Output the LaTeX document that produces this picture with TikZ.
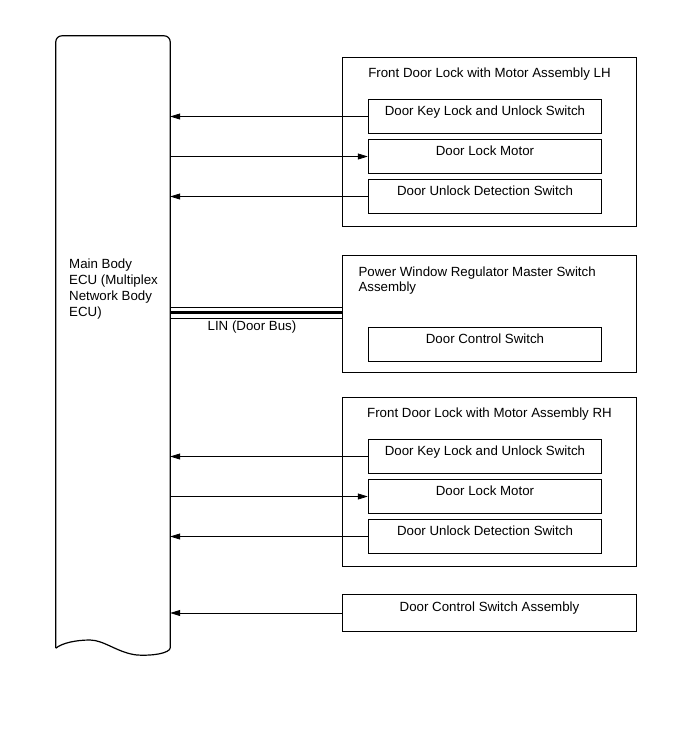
\documentclass[tikz,border=0pt]{standalone}
\usepackage{fontspec}
\setmainfont{Liberation Sans}
\usetikzlibrary{arrows.meta}
\begin{document}
\begin{tikzpicture}[x=1pt,y=-1pt,
  every node/.style={font=\fontsize{13.3}{15}\selectfont, inner sep=0pt},
  outerbox/.style={draw, line width=1pt, minimum width=294pt},
  innerbox/.style={draw, line width=1pt, minimum width=233.4pt, minimum height=33.3pt, text height=9.5pt, text depth=12.5pt},
  arr/.style={line width=0.8pt, -{Triangle[length=10pt,width=6pt]}},
  eculine/.style={line width=1.2pt}
]
\useasboundingbox (0,0) rectangle (690,756);

% Main Body ECU
\node[minimum width=114pt, minimum height=612pt] (ecu) at (113,342) {};
\draw[eculine, rounded corners=6pt] (ecu.south west) -- (ecu.north west) -- (ecu.north east) -- (ecu.south east);
\draw[eculine] (ecu.south east) .. controls (169,653) and (154,656) .. (137,655)
  .. controls (118,653) and (104,640) .. (90,640)
  .. controls (76,640) and (62,643) .. (ecu.south west);
\node[anchor=north west, align=left, font=\fontsize{13.3}{16}\selectfont] (ecutxt) at (69,258.5)
  {Main Body\\ECU (Multiplex\\Network Body\\ECU)};

% Front Door Lock LH
\node[outerbox, minimum height=168.7pt] (lh) at (489.5,141.65) {};
\node[anchor=base] (lhtitle) at (489.5,77.3) {Front Door Lock with Motor Assembly LH};
\node[innerbox] (lhkey) at (485,116.5) {Door Key Lock and Unlock Switch};
\node[innerbox] (lhmot) at (485,156.5) {Door Lock Motor};
\node[innerbox] (lhdet) at (485,196.5) {Door Unlock Detection Switch};

% Power Window Master Switch
\node[outerbox, minimum height=117.7pt] (pw) at (489.5,313.85) {};
\node[anchor=north west, align=left] (pwtitle) at (358.3,266.5) {Power Window Regulator Master Switch\\Assembly};
\node[innerbox, minimum height=34pt] (pwdcs) at (485,344.7) {Door Control Switch};

% Front Door Lock RH
\node[outerbox, minimum height=168.7pt] (rh) at (489.5,481.65) {};
\node[anchor=base] (rhtitle) at (489.5,417.3) {Front Door Lock with Motor Assembly RH};
\node[innerbox] (rhkey) at (485,456.5) {Door Key Lock and Unlock Switch};
\node[innerbox] (rhmot) at (485,496.5) {Door Lock Motor};
\node[innerbox] (rhdet) at (485,536.5) {Door Unlock Detection Switch};

% Door Control Switch Assembly
\node[outerbox, minimum height=37.4pt, text height=9.5pt, text depth=12.5pt] (dcsa) at (489.5,613) {Door Control Switch Assembly};

% Connectors LH
\draw[arr] (lhkey.west) -- (lhkey.west -| ecu.east);
\draw[arr] (lhmot.west -| ecu.east) -- (lhmot.west);
\draw[arr] (lhdet.west) -- (lhdet.west -| ecu.east);

% Connectors RH
\draw[arr] (rhkey.west) -- (rhkey.west -| ecu.east);
\draw[arr] (rhmot.west -| ecu.east) -- (rhmot.west);
\draw[arr] (rhdet.west) -- (rhdet.west -| ecu.east);

% Door Control Switch Assembly
\draw[arr] (dcsa.west) -- (dcsa.west -| ecu.east);

% LIN bus
\draw[line width=0.9pt] (ecu.east |- 0,307.5) -- (pw.west |- 0,307.5);
\draw[line width=3pt] (ecu.east |- 0,312.5) -- (pw.west |- 0,312.5);
\draw[line width=0.9pt] (ecu.east |- 0,318) -- (pw.west |- 0,318);
\node[anchor=base] (lin) at (252,330.5) {LIN (Door Bus)};
\end{tikzpicture}
\end{document}
